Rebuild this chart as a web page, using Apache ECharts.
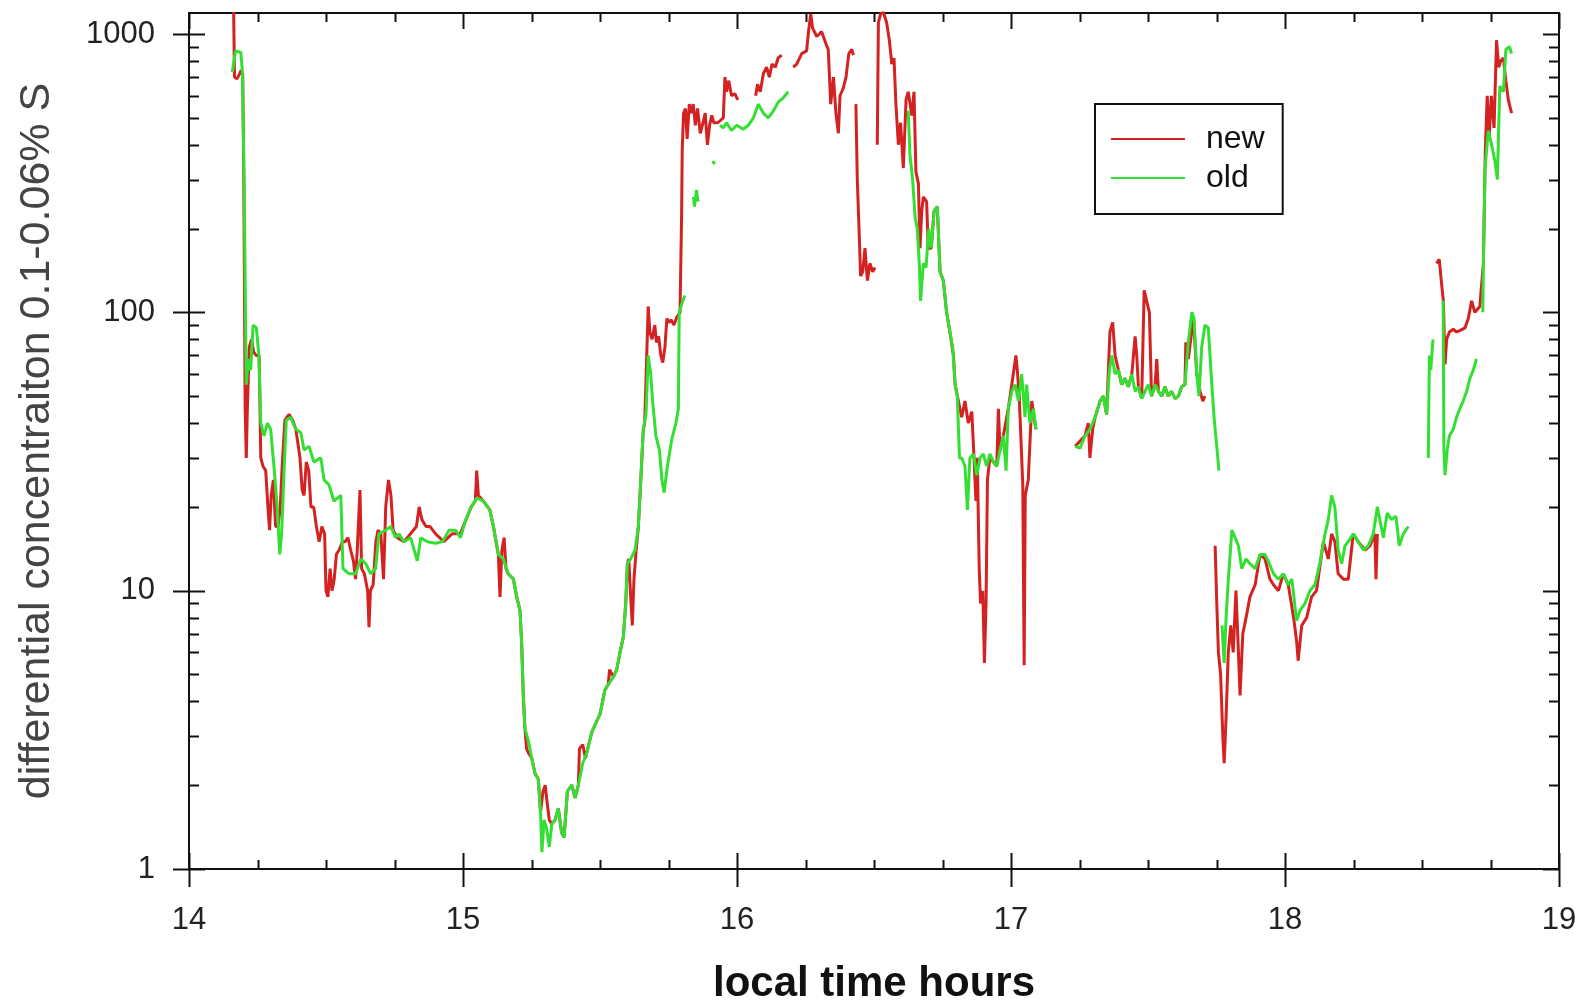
<!DOCTYPE html>
<html><head><meta charset="utf-8">
<script src="https://cdn.jsdelivr.net/npm/echarts@6/dist/echarts.min.js"></script>
<style>html,body{margin:0;padding:0;background:#fff}#c{width:1581px;height:1005px}</style>
</head><body><div id="c"></div>
<script>
const xMajorTicks = [14, 15, 16, 17, 18, 19];
const xMinorTicks = [14.25, 14.5, 14.75, 15.25, 15.5, 15.75, 16.25, 16.5, 16.75, 17.25, 17.5, 17.75, 18.25, 18.5, 18.75];
const yMajorTicks = [1, 10, 100, 1000];
const yMinorTicks = [2, 3, 4, 5, 6, 7, 8, 9, 20, 30, 40, 50, 60, 70, 80, 90, 200, 300, 400, 500, 600, 700, 800, 900];

const newSeries = [
[14.163,1200],[14.166,700],[14.175,690],[14.185,720],[14.190,740],[14.196,720],[14.200,300],[14.205,45],[14.209,30],[14.213,45],[14.220,75],[14.228,80],[14.236,72],[14.245,70],[14.256,70],[14.262,30],[14.270,28],[14.280,27],[14.288,20],[14.294,16.5],[14.300,22],[14.308,25],[14.316,17],[14.325,17],[14.333,20],[14.340,28],[14.350,41],[14.365,43],[14.378,41],[14.390,38],[14.405,30],[14.413,23],[14.420,22],[14.428,29],[14.437,27],[14.445,20],[14.455,20],[14.465,17],[14.475,15],[14.485,17],[14.495,16],[14.500,10],[14.507,9.5],[14.515,12],[14.522,10],[14.530,11],[14.538,13.5],[14.548,14],[14.560,15],[14.570,15],[14.580,15.5],[14.590,14],[14.600,12.8],[14.608,11],[14.614,14],[14.624,23],[14.630,12],[14.640,11.5],[14.652,10],[14.657,7.4],[14.662,10],[14.672,10.5],[14.682,15],[14.690,16.5],[14.700,16],[14.710,11],[14.718,20],[14.728,25],[14.737,22],[14.745,16.5],[14.760,15.5],[14.785,15],[14.830,17],[14.840,20],[14.850,18],[14.865,17],[14.880,17],[14.900,16],[14.930,15],[14.960,16],[14.990,16],[15.030,20],[15.045,21],[15.050,27],[15.056,22],[15.074,21],[15.098,19.5],[15.111,17],[15.129,13.5],[15.135,9.5],[15.142,14],[15.150,15.5],[15.157,12],[15.165,11.5],[15.184,11],[15.196,9.5],[15.208,8.5],[15.214,6.5],[15.220,4.2],[15.226,3.2],[15.232,2.7],[15.240,2.6],[15.251,2.5],[15.263,2.2],[15.275,2.1],[15.283,1.6],[15.292,1.9],[15.300,2.0],[15.308,1.7],[15.315,1.5],[15.324,1.45],[15.336,1.5],[15.348,1.65],[15.360,1.35],[15.369,1.3],[15.381,1.9],[15.397,2.0],[15.409,1.8],[15.421,2.0],[15.425,2.7],[15.437,2.8],[15.447,2.5],[15.451,2.6],[15.470,3.1],[15.488,3.4],[15.500,3.6],[15.518,4.4],[15.530,4.6],[15.535,5.2],[15.549,4.9],[15.561,5.2],[15.573,6.0],[15.585,6.8],[15.594,9],[15.600,12.5],[15.605,13],[15.612,9.5],[15.618,7.5],[15.624,11],[15.632,14],[15.640,17],[15.648,24],[15.658,38],[15.663,40],[15.676,105],[15.682,85],[15.690,80],[15.700,90],[15.706,78],[15.714,82],[15.722,70],[15.729,66],[15.737,75],[15.744,95],[15.752,92],[15.760,94],[15.770,90],[15.780,96],[15.792,100],[15.798,230],[15.800,380],[15.805,520],[15.812,540],[15.818,420],[15.826,560],[15.832,520],[15.840,560],[15.848,470],[15.856,540],[15.866,440],[15.876,480],[15.884,520],[15.892,400],[15.900,470],[15.908,510],[15.915,480],[15.930,480],[15.950,500],[15.956,700],[15.962,620],[15.970,680],[15.980,600],[15.992,610],[16.003,580],null,
[16.068,600],[16.075,660],[16.085,620],[16.096,720],[16.108,760],[16.118,700],[16.128,780],[16.140,760],[16.150,820],[16.163,840],null,
[16.205,760],[16.218,780],[16.236,850],[16.254,870],[16.260,1000],[16.269,1180],[16.276,1050],[16.291,980],[16.309,1020],[16.325,920],[16.333,880],[16.342,560],[16.352,700],[16.361,520],[16.370,440],[16.376,600],[16.388,640],[16.398,700],[16.408,850],[16.419,880],[16.425,840],null,
[16.434,560],[16.439,300],[16.447,180],[16.451,135],[16.459,140],[16.467,170],[16.476,130],[16.485,150],[16.495,140],[16.504,145],null,
[16.512,400],[16.516,1100],[16.524,1180],[16.534,1200],[16.546,1100],[16.556,950],[16.565,780],[16.573,820],[16.580,560],[16.589,400],[16.597,480],[16.607,330],[16.617,580],[16.625,620],[16.638,510],[16.646,620],[16.653,320],[16.662,290],[16.668,170],[16.674,230],[16.680,260],[16.692,250],[16.698,170],[16.709,170],[16.719,230],[16.731,240],[16.741,140],[16.753,130],[16.765,100],[16.777,85],[16.790,70],[16.796,55],[16.808,48],[16.820,42],[16.832,48],[16.844,40],[16.857,44],[16.865,30],[16.872,21],[16.877,30],[16.884,12],[16.889,9],[16.897,10],[16.903,5.5],[16.909,9],[16.914,25],[16.923,30],[16.936,29],[16.948,28],[16.954,45],[16.960,32],[16.972,36],[16.990,45],[17.018,70],[17.023,62],[17.030,50],[17.043,24],[17.048,5.4],[17.052,22],[17.063,25],[17.076,48],[17.084,42],[17.091,38],null,
[17.234,33],[17.270,36],[17.282,40],[17.288,30],[17.298,38],[17.307,42],[17.325,48],[17.337,50],[17.349,43],[17.361,85],[17.371,92],[17.380,70],[17.392,62],[17.404,55],[17.416,58],[17.428,54],[17.441,60],[17.453,82],[17.459,70],[17.465,54],[17.477,49],[17.486,120],[17.495,110],[17.505,100],[17.513,50],[17.526,55],[17.532,68],[17.538,52],[17.550,50],[17.562,54],[17.574,50],[17.586,52],[17.599,49],[17.611,50],[17.623,54],[17.635,55],[17.638,78],[17.647,68],[17.656,80],[17.666,95],[17.678,60],[17.690,52],[17.700,48],[17.708,50],null,
[17.745,14.5],[17.751,9],[17.757,6],[17.765,5],[17.773,3],[17.778,2.4],[17.785,3.5],[17.793,6],[17.802,7.5],[17.811,6],[17.821,10],[17.830,6],[17.836,4.2],[17.846,7],[17.858,8],[17.872,9.5],[17.891,10.5],[17.909,13.5],[17.927,13],[17.945,11],[17.958,10.5],[17.976,10],[17.994,11.5],[18.012,10.5],[18.033,7.8],[18.043,6.5],[18.048,5.6],[18.061,7.5],[18.079,8],[18.097,9.5],[18.115,10],[18.140,15],[18.158,13],[18.170,16],[18.182,15],[18.194,11.5],[18.213,11],[18.231,11],[18.249,16],[18.267,15],[18.292,14],[18.310,14.5],[18.328,16],[18.332,11],[18.337,16],null,
[18.553,150],[18.563,155],[18.572,125],[18.578,110],[18.584,65],[18.590,80],[18.600,85],[18.614,87],[18.626,85],[18.638,86],[18.657,88],[18.669,95],[18.681,110],[18.693,100],[18.711,105],[18.724,150],[18.731,380],[18.738,600],[18.745,420],[18.753,600],[18.763,460],[18.772,950],[18.780,760],[18.787,800],[18.797,820],[18.806,680],[18.815,580],[18.827,520]
];

const oldSeries = [
[14.158,730],[14.170,870],[14.189,860],[14.195,730],[14.201,300],[14.209,55],[14.217,68],[14.225,62],[14.234,90],[14.246,88],[14.255,70],[14.262,40],[14.274,36],[14.286,40],[14.298,38],[14.310,28],[14.322,20],[14.331,13.5],[14.338,16],[14.347,27],[14.355,41],[14.371,42],[14.389,38],[14.408,37],[14.420,32],[14.438,33],[14.456,29],[14.481,30],[14.493,25],[14.511,24],[14.529,21],[14.554,22],[14.562,12],[14.584,11.5],[14.608,11.5],[14.627,13],[14.645,12.5],[14.663,11.5],[14.681,12],[14.693,16],[14.718,16.5],[14.736,17],[14.754,15.5],[14.766,16],[14.785,15],[14.809,15.5],[14.833,12.8],[14.846,15.5],[14.870,15],[14.900,14.8],[14.925,15],[14.949,16.5],[14.973,16.5],[14.991,15.5],[15.010,18],[15.030,20],[15.050,21.5],[15.074,21],[15.098,19.5],[15.111,17],[15.129,13.5],[15.147,13],[15.165,11.5],[15.184,11],[15.196,9.5],[15.208,8.5],[15.214,6.5],[15.220,4.2],[15.226,3.2],[15.238,2.9],[15.251,2.5],[15.263,2.2],[15.275,2.1],[15.283,1.6],[15.288,1.15],[15.296,1.5],[15.305,1.4],[15.315,1.2],[15.324,1.45],[15.336,1.5],[15.348,1.65],[15.360,1.35],[15.369,1.3],[15.381,1.9],[15.397,2.0],[15.409,1.8],[15.421,2.0],[15.437,2.4],[15.451,2.6],[15.470,3.1],[15.488,3.4],[15.500,3.6],[15.518,4.4],[15.530,4.6],[15.549,4.9],[15.561,5.2],[15.573,6.0],[15.585,6.8],[15.594,9],[15.600,12.5],[15.612,13],[15.628,14],[15.640,17],[15.648,24],[15.658,38],[15.668,43],[15.676,70],[15.685,60],[15.692,48],[15.704,36],[15.717,32],[15.726,25],[15.734,22.5],[15.746,28],[15.762,35],[15.777,40],[15.786,45],[15.789,100],[15.802,110],[15.810,115],null,
[15.841,260],[15.845,240],[15.852,275],[15.858,250],null,
[15.912,350],[15.918,340],null,
[15.938,470],[15.950,460],[15.962,480],[15.980,450],[15.999,470],[16.023,455],[16.041,470],[16.060,500],[16.078,560],[16.096,520],[16.114,500],[16.133,530],[16.151,570],[16.169,590],[16.187,620],null,
[16.625,530],[16.631,370],[16.641,300],[16.650,220],[16.658,200],[16.666,145],[16.670,110],[16.680,150],[16.690,145],[16.700,200],[16.709,170],[16.719,230],[16.731,240],[16.741,140],[16.753,130],[16.765,100],[16.777,85],[16.787,75],[16.796,55],[16.804,50],[16.812,30],[16.820,30],[16.832,28],[16.841,19.5],[16.850,30],[16.863,31],[16.875,26],[16.887,30],[16.899,31],[16.911,28],[16.923,31],[16.936,29],[16.948,28],[16.960,32],[16.972,36],[16.982,27],[16.990,45],[17.003,52],[17.015,55],[17.027,48],[17.039,60],[17.051,42],[17.057,55],[17.069,40],[17.082,45],[17.091,38],null,
[17.234,33],[17.252,32.5],[17.270,36],[17.288,38],[17.307,42],[17.325,48],[17.337,50],[17.349,43],[17.359,62],[17.368,70],[17.380,60],[17.392,62],[17.404,55],[17.416,58],[17.428,54],[17.441,60],[17.453,52],[17.465,54],[17.477,49],[17.489,52],[17.501,55],[17.513,50],[17.526,55],[17.538,52],[17.550,50],[17.562,54],[17.574,50],[17.586,52],[17.599,49],[17.611,50],[17.623,54],[17.635,55],[17.647,78],[17.660,100],[17.668,95],[17.678,60],[17.686,50],[17.696,75],[17.708,90],[17.720,88],[17.733,55],[17.741,42],[17.751,33],[17.759,27],null,
[17.770,7.5],[17.778,5.5],[17.785,8],[17.792,10.5],[17.806,16.5],[17.818,15.5],[17.830,14.5],[17.842,12],[17.858,13],[17.872,12.5],[17.891,12],[17.909,13.5],[17.927,13.5],[17.943,12.5],[17.958,11.5],[17.976,11],[17.994,11.5],[18.012,10.5],[18.025,11],[18.030,10],[18.042,7.8],[18.055,8.5],[18.073,9],[18.091,10],[18.109,10.5],[18.127,12.5],[18.146,16],[18.158,18],[18.170,22],[18.182,20],[18.194,14],[18.207,12.5],[18.219,14.5],[18.231,15],[18.249,16],[18.267,15],[18.286,14],[18.304,14.5],[18.322,16],[18.337,20],[18.346,18],[18.359,15.5],[18.373,19],[18.389,18],[18.405,18.5],[18.417,14.5],[18.432,16],[18.450,17],null,
[18.523,30],[18.527,70],[18.532,62],[18.540,80],null,
[18.577,110],[18.580,32],[18.584,26],[18.592,32],[18.600,36],[18.614,38],[18.626,42],[18.638,45],[18.650,48],[18.663,52],[18.675,58],[18.687,62],[18.699,68],null,
[18.722,100],[18.724,150],[18.730,330],[18.742,450],[18.754,400],[18.766,350],[18.775,300],[18.784,650],[18.797,620],[18.806,880],[18.819,900],[18.827,850]
];

const asLine = arr => arr.map(p => p === null ? ['-', '-'] : p);
const xTickData = xMajorTicks.map(t => [t, 1, 1]).concat(xMinorTicks.map(t => [t, 1, 0]));
const yTickData = yMajorTicks.map(v => [14, v, 1]).concat(yMinorTicks.map(v => [14, v, 0]));
const tickStyle = { stroke: '#111', lineWidth: 2 };
function ln(x1, y1, x2, y2) { return { type: 'line', shape: { x1, y1, x2, y2 }, style: tickStyle }; }

function renderXTick(params, api) {
  const cs = params.coordSys;
  const p = api.coord([api.value(0), 1]);
  const x = Math.round(p[0]) + 0.5;
  const top = cs.y, bottom = cs.y + cs.height;
  const major = api.value(2) === 1;
  const ch = major
    ? [ln(x, bottom - 16, x, bottom + 18), ln(x, top, x, top + 16)]
    : [ln(x, bottom - 9, x, bottom), ln(x, top, x, top + 9)];
  return { type: 'group', children: ch };
}
function renderYTick(params, api) {
  const cs = params.coordSys;
  const p = api.coord([14, api.value(1)]);
  const y = Math.round(p[1]) + 0.5;
  const left = cs.x, right = cs.x + cs.width;
  const major = api.value(2) === 1;
  const ch = major
    ? [ln(left - 16, y, left + 16, y), ln(right - 16, y, right, y)]
    : [ln(left, y, left + 10, y), ln(right - 10, y, right, y)];
  return { type: 'group', children: ch };
}

const FONT = '"Liberation Sans", Arial, sans-serif';
const chart = echarts.init(document.getElementById('c'), null, { renderer: 'canvas' });
chart.setOption({
  animation: false,
  backgroundColor: '#fff',
  grid: { left: 189, top: 13, width: 1370, height: 856, show: true, borderColor: '#111', borderWidth: 2,
    backgroundColor: 'transparent', containLabel: false, outerBoundsMode: 'none' },
  legend: {
    left: 1095, top: 104, orient: 'vertical',
    data: [{ name: 'new', icon: 'rect' }, { name: 'old', icon: 'rect' }],
    itemWidth: 74, itemHeight: 2, itemGap: 5,
    padding: [18, 18, 19, 16],
    borderColor: '#111', borderWidth: 2, backgroundColor: '#fff',
    textStyle: { fontFamily: FONT, fontSize: 32, lineHeight: 34, color: '#111', padding: [0, 0, 0, 16] }
  },
  xAxis: {
    type: 'value', min: 14, max: 19, interval: 1,
    axisLine: { show: false }, axisTick: { show: false }, splitLine: { show: false },
    axisLabel: { fontFamily: FONT, fontSize: 31, color: '#222', margin: 36 },
    name: 'local time hours', nameLocation: 'middle', nameGap: 94,
    nameTextStyle: { fontFamily: FONT, fontSize: 42, fontWeight: 'bold', color: '#111' }
  },
  yAxis: {
    type: 'log', logBase: 10, min: 1, max: 1190,
    axisLine: { show: false }, axisTick: { show: false }, splitLine: { show: false },
    axisLabel: {
      fontFamily: FONT, fontSize: 31, color: '#222', margin: 34,
      formatter: v => { const r = Math.round(Math.log10(v)); return Math.abs(v - Math.pow(10, r)) < 1e-6 * v ? String(Math.pow(10, r)) : ''; }
    },
    name: 'differential concentraiton 0.1-0.06% S', nameLocation: 'middle', nameGap: 130,
    nameTextStyle: { fontFamily: FONT, fontSize: 43, color: '#444' }
  },
  series: [
    { name: 'new', type: 'line', data: asLine(newSeries), showSymbol: false, symbol: 'none', connectNulls: false,
      color: '#d42222', lineStyle: { width: 3, color: '#d42222' }, z: 2, clip: true },
    { name: 'old', type: 'line', data: asLine(oldSeries), showSymbol: false, symbol: 'none', connectNulls: false,
      color: '#33df33', lineStyle: { width: 3, color: '#33df33' }, z: 3, clip: true },
    { type: 'custom', data: xTickData, renderItem: renderXTick, clip: false, silent: true, z: 5 },
    { type: 'custom', data: yTickData, renderItem: renderYTick, clip: false, silent: true, z: 5 }
  ]
});
</script>
</body></html>
